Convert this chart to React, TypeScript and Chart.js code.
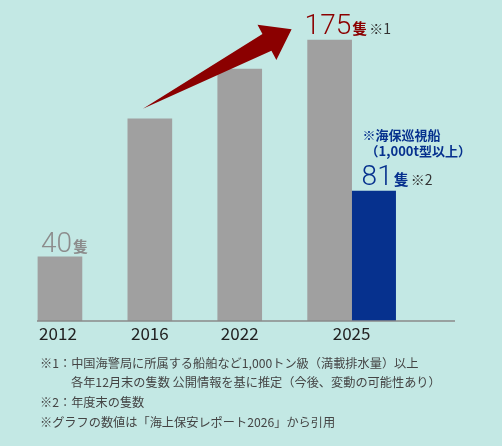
import { useEffect, useRef } from 'react';
import { Chart, registerables } from 'chart.js';

Chart.register(...registerables);

// 中国海警局 1,000トン級以上 と 海保巡視船 の隻数
const years = ['2012', '2016', '2022', '2025'];
const ccgShips = [40, 126, 157, 175];
const jcgShips = [null, null, null, 81];
const labelledYears = ['2012', '2025'];

const footnotes = [
  '※1：中国海警局に所属する船舶など1,000トン級（満載排水量）以上',
  '各年12月末の隻数 公開情報を基に推定（今後、変動の可能性あり）',
  '※2：年度末の隻数',
  '※グラフの数値は「海上保安レポート2026」から引用',
];

const BG = '#c3e8e4';
const GRAY = '#a0a0a0';
const RED = '#8b0000';
const NAVY = '#06318e';
const JP = '"Noto Sans CJK JP", sans-serif';

function drawValue(
  ctx: CanvasRenderingContext2D,
  x: number,
  y: number,
  num: string,
  color: string,
  note?: string
) {
  ctx.textAlign = 'left';
  ctx.textBaseline = 'alphabetic';
  ctx.fillStyle = color;
  ctx.font = '300 28px Roboto, sans-serif';
  ctx.fillText(num, x, y);
  let cx = x + ctx.measureText(num).width + 1;
  ctx.font = `bold 15px ${JP}`;
  ctx.fillText('隻', cx, y);
  cx += ctx.measureText('隻').width + 2;
  if (note) {
    ctx.fillStyle = '#333';
    ctx.font = `14px ${JP}`;
    ctx.fillText(note, cx, y);
  }
}

const overlayPlugin = {
  id: 'overlay',
  afterDatasetsDraw(chart: any) {
    const { ctx, chartArea } = chart;
    const grayBars = chart.getDatasetMeta(0).data;
    const navyBars = chart.getDatasetMeta(1).data;
    const base = chart.scales.y.getPixelForValue(0);
    ctx.save();

    // baseline
    ctx.strokeStyle = '#8a8a8a';
    ctx.lineWidth = 1.5;
    ctx.beginPath();
    ctx.moveTo(chartArea.left, base);
    ctx.lineTo(chartArea.right, base);
    ctx.stroke();

    // year labels, centred under the bars that exist in each year
    ctx.fillStyle = '#222';
    ctx.font = `17px ${JP}`;
    ctx.textAlign = 'center';
    ctx.textBaseline = 'middle';
    years.forEach((yr, i) => {
      const xs = [grayBars[i].x];
      if (jcgShips[i] != null) xs.push(navyBars[i].x);
      const cx = xs.reduce((a, b) => a + b, 0) / xs.length;
      ctx.fillText(yr, cx - (i === 0 ? 2 : 0), base + 13);
    });

    // value labels
    years.forEach((yr, i) => {
      if (!labelledYears.includes(yr)) return;
      const bar = grayBars[i];
      const left = bar.x - 22;
      if (i === years.length - 1) {
        drawValue(ctx, left - 3, bar.y - 6, String(ccgShips[i]), RED, '※1');
      } else {
        drawValue(ctx, left + 3, bar.y - 5, String(ccgShips[i]), '#8c8c8c');
      }
      const v = jcgShips[i];
      if (v != null) {
        const nb = navyBars[i];
        const nl = nb.x - 22;
        drawValue(ctx, nl + 10, nb.y - 6, String(v), NAVY, '※2');
        ctx.fillStyle = NAVY;
        ctx.font = `bold 13px ${JP}`;
        ctx.textBaseline = 'middle';
        ctx.fillText('※海保巡視船', nl + 11, nb.y - 56);
        ctx.fillText('（1,000t型以上）', nl + 14, nb.y - 40);
      }
    });

    // growth arrow from 2016 towards 2025
    const from = grayBars[1];
    const to = grayBars[3];
    const tx = from.x - 7, ty = from.y - 10;
    const hx = to.x - 38, hy = to.y - 11;
    const len = Math.hypot(hx - tx, hy - ty);
    const ux = (hx - tx) / len, uy = (hy - ty) / len;
    const nx = -uy, ny = ux;
    const bx = hx - ux * 28, by = hy - uy * 28;
    ctx.fillStyle = RED;
    ctx.beginPath();
    ctx.moveTo(tx, ty);
    ctx.lineTo(bx - nx * 9.5, by - ny * 9.5);
    ctx.lineTo(bx - nx * 20, by - ny * 20);
    ctx.lineTo(hx, hy);
    ctx.lineTo(bx + nx * 20, by + ny * 20);
    ctx.lineTo(bx + nx * 9.5, by + ny * 9.5);
    ctx.closePath();
    ctx.fill();

    ctx.restore();
  },
};

const App = () => {
  const canvasRef = useRef<HTMLCanvasElement | null>(null);
  const chartRef = useRef<Chart | null>(null);

  useEffect(() => {
    if (!canvasRef.current) return;
    if (chartRef.current) chartRef.current.destroy();

    chartRef.current = new Chart(canvasRef.current, {
      type: 'bar',
      data: {
        datasets: [
          {
            label: '中国海警局',
            data: ccgShips.map((v, i) => ({ x: i, y: v })),
            backgroundColor: GRAY,
            barThickness: 44,
          },
          {
            label: '海保巡視船',
            data: jcgShips.map((v, i) => ({ x: i, y: v })),
            backgroundColor: NAVY,
            barThickness: 44,
          },
        ],
      },
      options: {
        animation: false,
        responsive: true,
        maintainAspectRatio: false,
        layout: { padding: { left: 37, right: 47, top: 0, bottom: 125 } },
        plugins: {
          legend: { display: false },
          tooltip: { enabled: false },
        },
        scales: {
          x: {
            type: 'linear',
            display: false,
            offset: false,
            min: -0.5,
            max: 4.15,
          },
          y: {
            display: false,
            min: 0,
            max: 200,
          },
        },
      },
      plugins: [overlayPlugin],
    } as any);

    return () => {
      if (chartRef.current) {
        chartRef.current.destroy();
        chartRef.current = null;
      }
    };
  }, []);

  return (
    <div
      style={{
        position: 'absolute',
        left: 0,
        top: 0,
        width: 502,
        height: 446,
        background: BG,
        fontFamily: JP,
      }}
    >
      <div style={{ position: 'absolute', left: 0, top: 0, width: 502, height: 446 }}>
        <canvas ref={canvasRef}></canvas>
      </div>
      <div
        style={{
          position: 'absolute',
          left: 40,
          top: 354,
          fontSize: 12.2,
          color: '#444',
          lineHeight: '19px',
        }}
      >
        <div>{footnotes[0]}</div>
        <div style={{ paddingLeft: 31 }}>{footnotes[1]}</div>
        <div style={{ marginTop: 1 }}>{footnotes[2]}</div>
        <div style={{ marginTop: 1 }}>{footnotes[3]}</div>
      </div>
    </div>
  );
};

export default App;
